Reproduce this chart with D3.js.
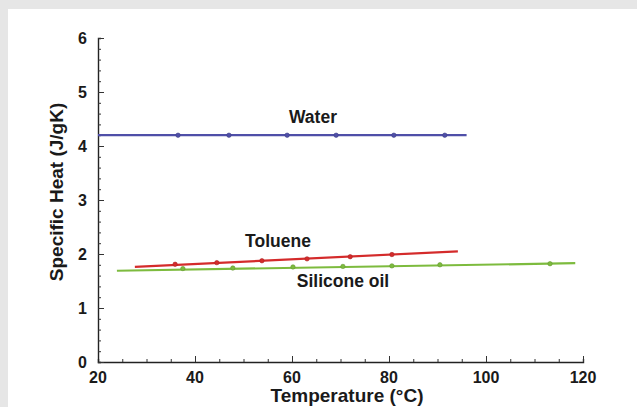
<!DOCTYPE html>
<html>
<head>
<meta charset="utf-8">
<script src="https://cdn.jsdelivr.net/npm/d3@7"></script>
<style>
  body { margin: 0; background: #e6e6e6; }
  svg { display: block; }
  text { font-family: "Liberation Sans", Arial, sans-serif; font-weight: bold; fill: #1a1a1a; }
</style>
</head>
<body>
<script>
var width = 637
var height = 407

// fitted line ends [temp, value]
var waterLine = [[20, 4.2], [96, 4.2]]
var tolueneLine = [[27.6, 1.76], [94.2, 2.05]]
var siliconeLine = [[23.9, 1.69], [118.4, 1.83]]

// measured points
var waterTemps = [36.5, 47, 59, 69.1, 81, 91.5]
var waterValues = [4.2, 4.2, 4.2, 4.2, 4.2, 4.2]
var tolueneTemps = [35.9, 44.5, 53.8, 63.1, 72, 80.6]
var tolueneValues = [1.81, 1.84, 1.875, 1.91, 1.95, 1.99]
var siliconeTemps = [37.5, 47.8, 60.2, 70.5, 80.6, 90.5, 113.2]
var siliconeValues = [1.73, 1.74, 1.76, 1.77, 1.78, 1.8, 1.82]

var xTicks = [20, 40, 60, 80, 100, 120]
var yTicks = [0, 1, 2, 3, 4, 5, 6]

var waterColor = "#4f4fa8"
var tolueneColor = "#d42b2b"
var siliconeColor = "#7dbb3e"

var svg = d3.select("body")
    .append("svg")
    .attr("width", width)
    .attr("height", height)

svg.append("rect")
    .attr("x", 8)
    .attr("y", 9)
    .attr("width", width - 8)
    .attr("height", height - 9)
    .attr("fill", "white")

var x = d3.scaleLinear().domain([20, 120]).range([98, 583])
var y = d3.scaleLinear().domain([0, 6]).range([362, 38])

// axes with inward ticks
var xAxis = svg.append("g")
    .attr("transform", "translate(0," + y(0) + ")")
    .call(d3.axisTop(x).tickValues(d3.range(20, 121, 5)).tickSize(3).tickFormat(""))
xAxis.selectAll(".tick line").filter(function (d) { return xTicks.indexOf(d) !== -1 }).attr("y2", -6)

var yAxis = svg.append("g")
    .attr("transform", "translate(" + x(20) + ",0)")
    .call(d3.axisRight(y).tickValues(d3.range(0, 6.01, 0.2)).tickSize(3).tickFormat(""))
yAxis.selectAll(".tick line").filter(function (d) { return Math.abs(d - Math.round(d)) < 1e-6 }).attr("x2", 6)

svg.selectAll(".domain").attr("stroke", "#222").attr("stroke-width", 1.4)
svg.selectAll(".tick line").attr("stroke", "#333")

svg.selectAll(".xlab")
    .data(xTicks)
    .enter()
    .append("text")
    .attr("x", function (d) { return x(d) })
    .attr("y", 383)
    .attr("text-anchor", "middle")
    .style("font-size", "16px")
    .text(function (d) { return d })

svg.selectAll(".ylab")
    .data(yTicks)
    .enter()
    .append("text")
    .attr("x", 87)
    .attr("y", function (d) { return y(d) + 6 })
    .attr("text-anchor", "end")
    .style("font-size", "16px")
    .text(function (d) { return d })

svg.append("text")
    .attr("transform", "translate(63,192) rotate(-90)")
    .attr("text-anchor", "middle")
    .style("font-size", "19px")
    .text("Specific Heat (J/gK)")

svg.append("text")
    .attr("x", 347)
    .attr("y", 402)
    .attr("text-anchor", "middle")
    .style("font-size", "19px")
    .text("Temperature (°C)")

var line = d3.line()
    .x(function (d) { return x(d[0]) })
    .y(function (d) { return y(d[1]) })

function drawSeries(ends, temps, values, color) {
    svg.append("path")
        .attr("d", line(ends))
        .attr("fill", "none")
        .attr("stroke", color)
        .attr("stroke-width", 2.2)

    svg.append("g")
        .selectAll("circle")
        .data(temps)
        .enter()
        .append("circle")
        .attr("cx", function (d) { return x(d) })
        .attr("cy", function (d, i) { return y(values[i]) })
        .attr("r", 2.2)
        .attr("fill", color)
        .attr("stroke", d3.color(color).darker(0.6))
        .attr("stroke-width", 0.6)
}

drawSeries(waterLine, waterTemps, waterValues, waterColor)
drawSeries(siliconeLine, siliconeTemps, siliconeValues, siliconeColor)
drawSeries(tolueneLine, tolueneTemps, tolueneValues, tolueneColor)

svg.append("text").attr("x", 313).attr("y", 123).attr("text-anchor", "middle").style("font-size", "17.5px").text("Water")
svg.append("text").attr("x", 278).attr("y", 247).attr("text-anchor", "middle").style("font-size", "17.5px").text("Toluene")
svg.append("text").attr("x", 343).attr("y", 287).attr("text-anchor", "middle").style("font-size", "17.5px").text("Silicone oil")
</script>
</body>
</html>
